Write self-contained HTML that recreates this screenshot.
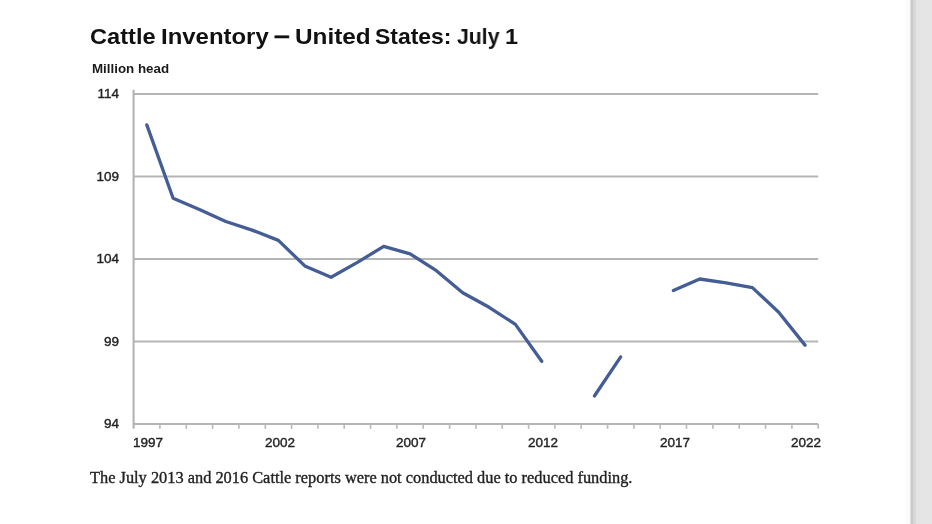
<!DOCTYPE html>
<html><head><meta charset="utf-8"><title>Cattle Inventory</title>
<style>
html,body{margin:0;padding:0;}
body{width:932px;height:524px;overflow:hidden;background:#ffffff;position:relative;font-family:"Liberation Sans",sans-serif;}
.strip{position:absolute;left:910px;top:0;width:22px;height:524px;background:linear-gradient(to right,#e6e6e6 0px,#e6e6e6 0.4px,#cacaca 0.8px,#cbcbcb 3px,#d6d6d6 3.6px,#d9d9d9 5.4px,#e2e2e2 6.2px,#e4e4e4 8px,#e5e5e5 22px);}
.fade{position:absolute;left:903px;top:0;width:7px;height:524px;background:linear-gradient(to right,#ffffff,#f9f9f9);}
.tw{position:absolute;font-weight:bold;font-size:22.6px;line-height:40px;color:#111;white-space:nowrap;transform-origin:0 0;will-change:transform;}
.sub{position:absolute;left:91.6px;top:62.2px;font-weight:bold;font-size:13px;line-height:14px;color:#1a1a1a;white-space:nowrap;transform-origin:0 0;transform:scaleX(1.026);}
.yl,.xl,.foot,.sub{will-change:transform;}
.yl,.xl{-webkit-text-stroke:0.4px #262626;}
.yl{position:absolute;left:88px;width:31px;text-align:right;font-size:13.5px;line-height:16px;color:#222;}
.xl{position:absolute;top:435.1px;width:40px;text-align:center;font-size:13.5px;line-height:16px;color:#222;}
.foot{-webkit-text-stroke:0.35px #222;position:absolute;left:89.8px;top:467.6px;font-family:"Liberation Serif",serif;font-size:16.38px;line-height:20px;color:#222;white-space:nowrap;transform-origin:0 0;}
svg{position:absolute;left:0;top:0;}
#soft{position:absolute;left:0;top:0;width:900px;height:524px;filter:blur(0.4px);}
</style></head><body>
<div class="fade"></div><div class="strip"></div>
<div id="soft"><svg width="932" height="524" viewBox="0 0 932 524">
<g stroke="#b5b5b5" stroke-width="1.9" fill="none"><line x1="133.6" x2="818.2" y1="94.0" y2="94.0"/><line x1="133.6" x2="818.2" y1="176.5" y2="176.5"/><line x1="133.6" x2="818.2" y1="259.0" y2="259.0"/><line x1="133.6" x2="818.2" y1="341.5" y2="341.5"/><line x1="133.6" x2="818.2" y1="424.0" y2="424.0"/></g>
<g stroke="#b0b0b0" stroke-width="2" fill="none"><line x1="133.6" x2="133.6" y1="89.7" y2="428.8"/></g>
<g stroke="#b8b8b8" stroke-width="1.6" fill="none"><line x1="159.9" x2="159.9" y1="424.0" y2="428.8"/><line x1="186.3" x2="186.3" y1="424.0" y2="428.8"/><line x1="212.6" x2="212.6" y1="424.0" y2="428.8"/><line x1="238.9" x2="238.9" y1="424.0" y2="428.8"/><line x1="265.3" x2="265.3" y1="424.0" y2="428.8"/><line x1="291.6" x2="291.6" y1="424.0" y2="428.8"/><line x1="317.9" x2="317.9" y1="424.0" y2="428.8"/><line x1="344.2" x2="344.2" y1="424.0" y2="428.8"/><line x1="370.6" x2="370.6" y1="424.0" y2="428.8"/><line x1="396.9" x2="396.9" y1="424.0" y2="428.8"/><line x1="423.2" x2="423.2" y1="424.0" y2="428.8"/><line x1="449.6" x2="449.6" y1="424.0" y2="428.8"/><line x1="475.9" x2="475.9" y1="424.0" y2="428.8"/><line x1="502.2" x2="502.2" y1="424.0" y2="428.8"/><line x1="528.6" x2="528.6" y1="424.0" y2="428.8"/><line x1="554.9" x2="554.9" y1="424.0" y2="428.8"/><line x1="581.2" x2="581.2" y1="424.0" y2="428.8"/><line x1="607.6" x2="607.6" y1="424.0" y2="428.8"/><line x1="633.9" x2="633.9" y1="424.0" y2="428.8"/><line x1="660.2" x2="660.2" y1="424.0" y2="428.8"/><line x1="686.5" x2="686.5" y1="424.0" y2="428.8"/><line x1="712.9" x2="712.9" y1="424.0" y2="428.8"/><line x1="739.2" x2="739.2" y1="424.0" y2="428.8"/><line x1="765.5" x2="765.5" y1="424.0" y2="428.8"/><line x1="791.9" x2="791.9" y1="424.0" y2="428.8"/><line x1="818.2" x2="818.2" y1="424.0" y2="428.8"/></g>
<g stroke="#445d95" stroke-width="3.3" fill="none" stroke-linecap="round" stroke-linejoin="round"><path d="M146.8 124.9 L173.1 198.3 L199.4 209.5 L225.8 221.5 L252.1 230.1 L278.4 240.4 L304.8 265.9 L331.1 277.3 L357.4 262.4 L383.7 246.4 L410.1 253.8 L436.4 270.7 L462.7 292.7 L489.1 307.3 L515.4 324.4 L541.7 361.3"/><path d="M594.4 396.0 L620.7 356.9"/><path d="M673.4 290.5 L699.7 279.0 L726.0 282.8 L752.4 287.6 L778.7 312.2 L805.0 345.1"/></g>
</svg>
<div id="title"><span class="tw" style="left:89.76px;top:17.10px;transform:scaleX(1.0443)">Cattle</span> <span class="tw" style="left:161.41px;top:17.10px;transform:scaleX(1.0590)">Inventory</span> <span class="tw" style="left:274.06px;top:16.20px;transform:scaleX(1.2545);-webkit-text-stroke:0.5px #111">–</span> <span class="tw" style="left:294.55px;top:17.10px;transform:scaleX(1.0770)">United</span> <span class="tw" style="left:375.44px;top:17.10px;transform:scaleX(1.0152)">States:</span> <span class="tw" style="left:456.83px;top:17.10px;transform:scaleX(0.9393)">July</span> <span class="tw" style="left:505.44px;top:17.10px;transform:scaleX(1.0381)">1</span></div>
<div class="sub" id="sub">Million head</div>
<div class="yl" style="top:86.3px">114</div><div class="yl" style="top:168.8px">109</div><div class="yl" style="top:251.3px">104</div><div class="yl" style="top:333.8px">99</div><div class="yl" style="top:416.3px">94</div>
<div class="xl" style="left:128.1px">1997</div><div class="xl" style="left:259.7px">2002</div><div class="xl" style="left:391.4px">2007</div><div class="xl" style="left:523.0px">2012</div><div class="xl" style="left:654.7px">2017</div><div class="xl" style="left:786.3px">2022</div>
<div class="foot" id="foot">The July 2013 and 2016 Cattle reports were not conducted due to reduced funding.</div>
</div>
</body></html>
